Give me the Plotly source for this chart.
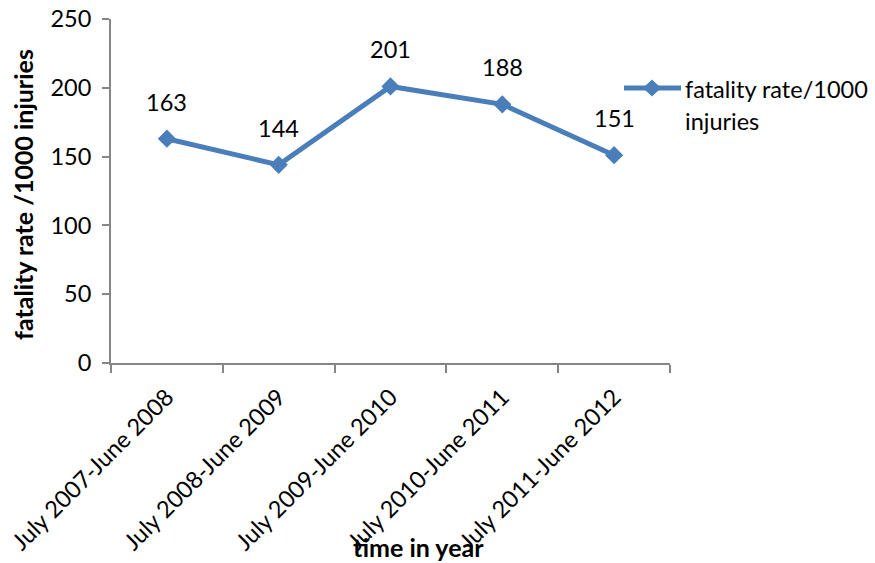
import plotly.graph_objects as go

# Fatality rate per 1000 injuries by fiscal year
periods = [
    "July 2007-June 2008",
    "July 2008-June 2009",
    "July 2009-June 2010",
    "July 2010-June 2011",
    "July 2011-June 2012",
]
fatality_rate = [163, 144, 201, 188, 151]
series_name = "fatality rate/1000 injuries"
y_ticks = [0, 50, 100, 150, 200, 250]

BLUE = "#4a7ebb"
AXIS = "#868686"
FONT = "Lato"
TXT = 23.5
TITLE = 25

W, H = 875, 563
ML, MR, MT, MB = 111, 205, 19, 200
PW, PH = W - ML - MR, H - MT - MB


def px_x(p):
    return (p - ML) / PW


def px_y(p):
    return (H - MB - p) / PH


fig = go.Figure()
fig.add_trace(go.Scatter(
    x=periods,
    y=fatality_rate,
    mode="lines+markers",
    name=series_name,
    line=dict(color=BLUE, width=5),
    marker=dict(symbol="diamond", size=14, color=BLUE),
    showlegend=False,
))

# value labels above each point
for p, v in zip(periods, fatality_rate):
    fig.add_annotation(
        x=p, y=v, text=str(v), showarrow=False, yshift=37,
        font=dict(family=FONT, size=TXT, color="black"),
    )

# legend entry: line with diamond and two-line label
ly = px_y(88)
fig.add_shape(type="line", xref="paper", yref="paper",
              x0=px_x(624), x1=px_x(681), y0=ly, y1=ly,
              line=dict(color=BLUE, width=5))
fig.add_shape(type="path", xref="paper", yref="paper",
              xsizemode="pixel", ysizemode="pixel",
              xanchor=px_x(652), yanchor=ly,
              path="M -9 0 L 0 8.5 L 9 0 L 0 -8.5 Z",
              fillcolor=BLUE, line=dict(color=BLUE, width=0))
fig.add_annotation(xref="paper", yref="paper", x=px_x(683), y=px_y(89),
                   text="fatality rate/1000", showarrow=False,
                   xanchor="left", yanchor="middle",
                   font=dict(family=FONT, size=TXT, color="black"))
fig.add_annotation(xref="paper", yref="paper", x=px_x(683), y=px_y(121),
                   text="injuries", showarrow=False,
                   xanchor="left", yanchor="middle",
                   font=dict(family=FONT, size=TXT, color="black"))

# axis titles
fig.add_annotation(xref="paper", yref="paper", x=px_x(419), y=px_y(547),
                   text="<b>time in year</b>", showarrow=False,
                   xanchor="center", yanchor="middle",
                   font=dict(family=FONT, size=TITLE, color="black"))
fig.add_annotation(xref="paper", yref="paper", x=px_x(23), y=px_y(195),
                   text="<b>fatality rate /1000 injuries</b>", showarrow=False,
                   textangle=-90, xanchor="center", yanchor="middle",
                   font=dict(family=FONT, size=TITLE, color="black"))

fig.update_layout(
    width=W, height=H,
    margin=dict(l=ML, r=MR, t=MT, b=MB, pad=0, autoexpand=False),
    paper_bgcolor="white", plot_bgcolor="white",
    font=dict(family=FONT, size=TXT, color="black"),
)
fig.update_xaxes(
    type="category", range=[-0.5, 4.5], automargin=False,
    showline=True, linecolor=AXIS, linewidth=2,
    ticks="outside", tickson="boundaries", ticklen=8, tickcolor=AXIS, tickwidth=2,
    tickangle=-45, ticklabelstandoff=9,
    showgrid=False, zeroline=False,
    tickfont=dict(family=FONT, size=TXT, color="black"),
)
fig.update_yaxes(
    range=[0, 250], tickvals=y_ticks, automargin=False,
    showline=True, linecolor=AXIS, linewidth=2,
    ticks="outside", ticklen=7, tickcolor=AXIS, tickwidth=2,
    ticklabelstandoff=6,
    showgrid=False, zeroline=False,
    tickfont=dict(family=FONT, size=TXT, color="black"),
)

fig.write_html("out.html")
